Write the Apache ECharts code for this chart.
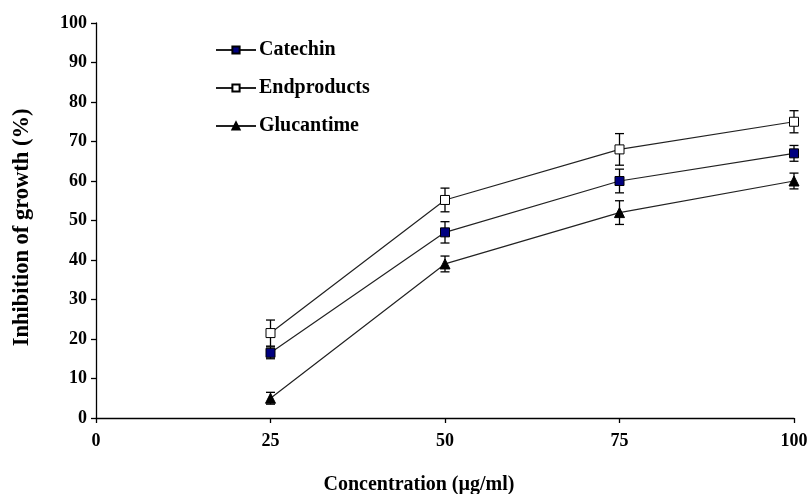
<!DOCTYPE html>
<html><head><meta charset="utf-8">
<script src="https://cdn.jsdelivr.net/npm/echarts@6/dist/echarts.min.js"></script>
<style>html,body{margin:0;padding:0;background:#fff}#c{width:809px;height:494px}</style>
</head><body><div id="c"></div>
<script>
const concentrations = [25, 50, 75, 100];
const catechin = [16.5, 47, 60, 67];
const catechinErr = [1.5, 2.7, 3, 2];
const endproducts = [21.5, 55.2, 68, 75];
const endproductsErr = [3.3, 3, 4, 2.8];
const glucantime = [5, 39, 52, 60];
const glucantimeErr = [1.5, 2, 3, 2];
const xTicks = [0, 25, 50, 75, 100];

const FONT = '"Liberation Serif", "Times New Roman", serif';

function pts(vals){ return concentrations.map((x,i)=>[x, vals[i]]); }
function errData(vals, errs){ return concentrations.map((x,i)=>[x, vals[i]-errs[i], vals[i]+errs[i]]); }

function errSeries(vals, errs){
  return {
    type: 'custom', silent: true, z: 1,
    data: errData(vals, errs),
    renderItem: function(params, api){
      const lo = api.coord([api.value(0), api.value(1)]);
      const hi = api.coord([api.value(0), api.value(2)]);
      const w = 4.5;
      const st = {stroke:'#000', lineWidth:1.3};
      return {type:'group', children:[
        {type:'line', shape:{x1:lo[0], y1:lo[1], x2:hi[0], y2:hi[1]}, style:st},
        {type:'line', shape:{x1:lo[0]-w, y1:lo[1], x2:lo[0]+w, y2:lo[1]}, style:st},
        {type:'line', shape:{x1:hi[0]-w, y1:hi[1], x2:hi[0]+w, y2:hi[1]}, style:st}
      ]};
    }
  };
}

const chart = echarts.init(document.getElementById('c'));
chart.setOption({
  animation: false,
  backgroundColor: '#fff',
  grid: {left: 96, right: 15, top: 23, bottom: 76, containLabel: false, outerBoundsMode: 'none'},
  legend: {
    orient: 'vertical', left: 210, top: 35, itemGap: 18,
    itemWidth: 40, itemHeight: 9,
    textStyle: {fontFamily: FONT, fontWeight: 'bold', fontSize: 20, color: '#000', padding:[0,0,0,-2]},
    data: ['Catechin', 'Endproducts', 'Glucantime']
  },
  xAxis: {
    type: 'value', min: 0, max: 100, interval: 25,
    name: 'Concentration (µg/ml)', nameLocation: 'middle', nameGap: 57,
    nameTextStyle: {fontFamily: FONT, fontWeight: 'bold', fontSize: 20, color: '#000', padding: [0, 52, 0, 0]},
    axisLine: {lineStyle: {color: '#000', width: 1.3}},
    axisTick: {show: true, length: 5, lineStyle: {color: '#000', width: 1.3}},
    axisLabel: {fontFamily: FONT, fontWeight: 'bold', fontSize: 18, color: '#000', margin: 14},
    splitLine: {show: false}
  },
  yAxis: {
    type: 'value', min: 0, max: 100, interval: 10,
    name: 'Inhibition of growth (%)', nameLocation: 'middle', nameGap: 62, nameRotate: 90,
    nameTextStyle: {fontFamily: FONT, fontWeight: 'bold', fontSize: 22.5, color: '#000', padding: [0, 14, 0, 0]},
    axisLine: {show: true, lineStyle: {color: '#000', width: 1.3}},
    axisTick: {show: true, length: 5, lineStyle: {color: '#000', width: 1.3}},
    axisLabel: {fontFamily: FONT, fontWeight: 'bold', fontSize: 18, color: '#000', margin: 9},
    splitLine: {show: false}
  },
  series: [
    errSeries(catechin, catechinErr),
    errSeries(endproducts, endproductsErr),
    errSeries(glucantime, glucantimeErr),
    {name: 'Catechin', type: 'line', data: pts(catechin), z: 3,
     symbol: 'rect', symbolSize: 9,
     lineStyle: {color: '#222', width: 1.2},
     itemStyle: {color: '#000080', borderColor: '#000', borderWidth: 1}},
    {name: 'Endproducts', type: 'line', data: pts(endproducts), z: 3,
     symbol: 'rect', symbolSize: 9,
     lineStyle: {color: '#222', width: 1.2},
     itemStyle: {color: '#fff', borderColor: '#000', borderWidth: 1}},
    {name: 'Glucantime', type: 'line', data: pts(glucantime), z: 3,
     symbol: 'triangle', symbolSize: 10,
     lineStyle: {color: '#222', width: 1.2},
     itemStyle: {color: '#000', borderColor: '#000', borderWidth: 1}}
  ]
});
</script></body></html>
